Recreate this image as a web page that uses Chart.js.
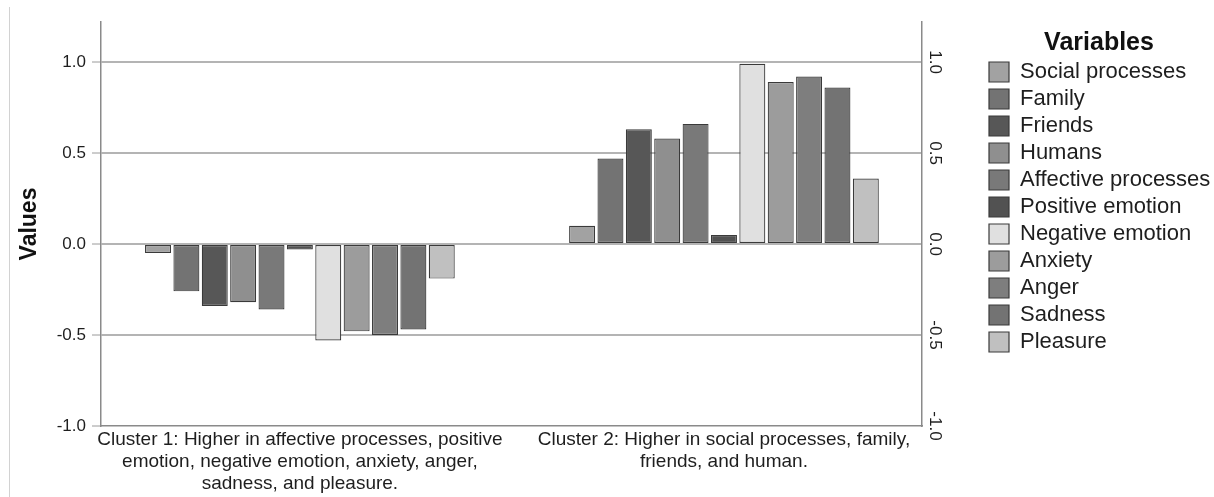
<!DOCTYPE html>
<html><head><meta charset="utf-8">
<script src="https://cdn.jsdelivr.net/npm/chart.js@4/dist/chart.umd.min.js"></script>
<style>
html,body{margin:0;padding:0;background:#fff;}
#wrap{position:relative;width:1214px;height:497px;background:#fff;}
#frame{position:absolute;left:9px;top:7px;width:0;height:490px;border-left:1px solid #d2d2d2;}
canvas{position:absolute;left:0;top:0;}
</style></head><body>
<div id="wrap"><div id="frame"></div><canvas id="c" width="1214" height="497"></canvas></div>
<script>
const categories = [
  ["Cluster 1: Higher in affective processes, positive", "emotion, negative emotion, anxiety, anger,", "sadness, and pleasure."],
  ["Cluster 2: Higher in social processes, family,", "friends, and human."]
];
const variables = ["Social processes", "Family", "Friends", "Humans", "Affective processes", "Positive emotion", "Negative emotion", "Anxiety", "Anger", "Sadness", "Pleasure"];
const cluster1Values = [-0.05, -0.26, -0.34, -0.32, -0.36, -0.03, -0.53, -0.48, -0.50, -0.47, -0.19];
const cluster2Values = [0.10, 0.47, 0.63, 0.58, 0.66, 0.05, 0.99, 0.89, 0.92, 0.86, 0.36];
const barColors = ["#a2a2a2", "#737373", "#575757", "#8f8f8f", "#797979", "#525252", "#e0e0e0", "#9c9c9c", "#7e7e7e", "#737373", "#c0c0c0"];
const yTicks = [-1.0, -0.5, 0.0, 0.5, 1.0];

const FONT = "'Liberation Sans', Arial, sans-serif";
const TXT = '#1e1e1e';

const datasets = variables.map((name, i) => ({
  label: name,
  data: [cluster1Values[i], cluster2Values[i]],
  backgroundColor: barColors[i],
  borderColor: '#3a3a3a',
  borderWidth: 1.2,
  borderSkipped: false,
  categoryPercentage: 0.736,
  barPercentage: 0.915
}));

const setYTicks = s => { s.ticks = yTicks.map(v => ({ value: v })); };

new Chart(document.getElementById('c'), {
  type: 'bar',
  data: { labels: categories.map((_, i) => i), datasets },
  options: {
    responsive: false,
    animation: false,
    layout: { padding: { top: 22, left: 0, right: 0, bottom: 0 } },
    plugins: {
      tooltip: { enabled: false },
      legend: {
        position: 'right',
        align: 'start',
        maxWidth: 230,
        title: { display: true, text: 'Variables', color: '#111', font: { family: FONT, size: 25, weight: 'bold', lineHeight: 1 }, padding: { top: 9, bottom: 0 } },
        labels: { boxWidth: 20, boxHeight: 20, padding: 5, color: TXT, font: { family: FONT, size: 22 } }
      }
    },
    scales: {
      x: {
        type: 'linear',
        offset: false,
        min: -0.469, max: 1.467,
        afterBuildTicks: s => { s.ticks = categories.map((_, i) => ({ value: i })); },
        afterFit: s => { s.height = 71; },
        grid: { display: false, drawTicks: false, offset: false },
        border: { display: true, color: '#8a8a8a', width: 1.5 },
        ticks: {
          callback: v => categories[v],
          color: TXT, padding: 3, maxRotation: 0, minRotation: 0, autoSkip: false,
          font: { family: FONT, size: 19, lineHeight: 1.16 }
        }
      },
      y: {
        type: 'linear', position: 'left',
        min: -1, max: 1.22,
        afterBuildTicks: setYTicks,
        afterFit: s => { s.width = 101; },
        grid: {
          color: c => (c.tick && c.tick.value === -1) ? 'rgba(0,0,0,0)' : '#b4b4b4',
          lineWidth: 2, tickColor: '#9a9a9a', tickWidth: 1, tickLength: 9
        },
        border: { color: '#8a8a8a', width: 1.5 },
        ticks: { callback: v => v.toFixed(1), color: TXT, padding: 6, font: { family: FONT, size: 17 } },
        title: { display: true, text: 'Values', color: '#111', font: { family: FONT, size: 23, weight: 'bold' }, padding: { top: 16, bottom: 0 } }
      },
      y2: {
        type: 'linear', position: 'right',
        min: -1, max: 1.22,
        afterBuildTicks: setYTicks,
        afterFit: s => { s.width = 62; },
        grid: { drawOnChartArea: false, drawTicks: false },
        border: { color: '#8a8a8a', width: 1.5 },
        ticks: { callback: v => v.toFixed(1), color: TXT, padding: -2, crossAlign: 'center', minRotation: -90, maxRotation: -90, font: { family: FONT, size: 17 } }
      }
    }
  }
});
</script>
</body></html>
